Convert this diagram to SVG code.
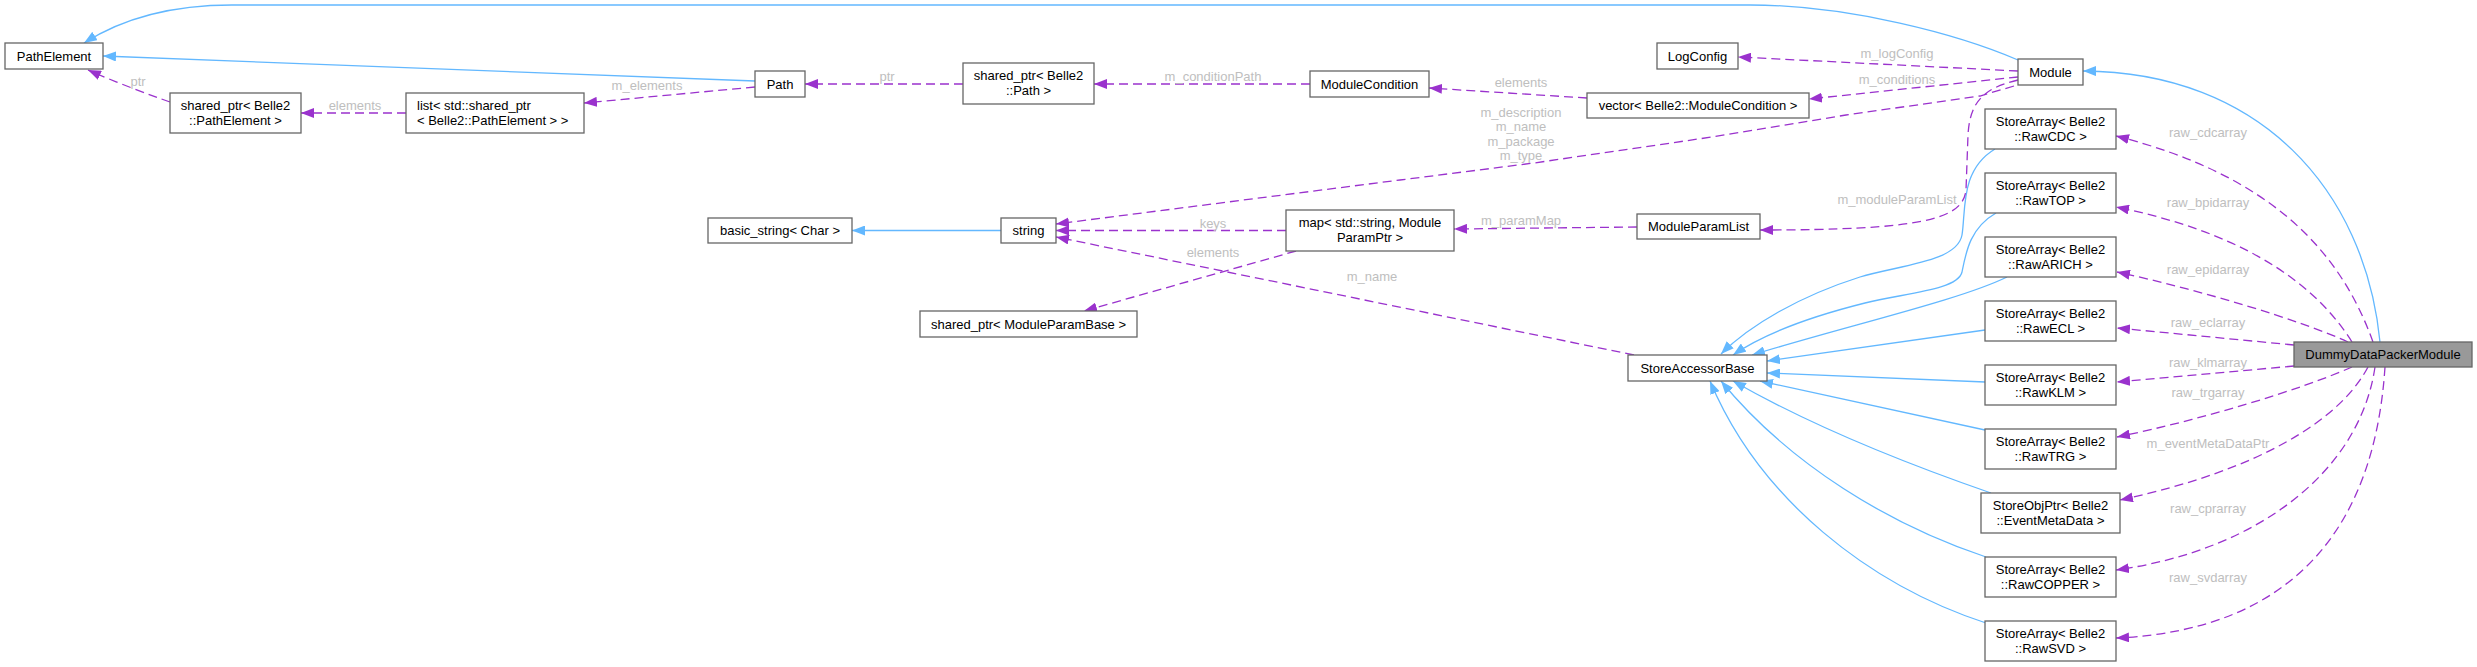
<svg xmlns="http://www.w3.org/2000/svg" width="2477" height="667" viewBox="0 0 2477 667">
<defs>
<style>
.n rect{fill:#ffffff;stroke:#666666;stroke-width:1.3}
.n text{font-family:"Liberation Sans",Arial,sans-serif;font-size:13px;fill:#000000;text-anchor:middle}
.n text.l{text-anchor:start}
#ddpm rect{fill:#999999}
.b{fill:none;stroke:#63b8ff;stroke-width:1.3;marker-end:url(#ab)}
.p{fill:none;stroke:#9a32cd;stroke-width:1.3;stroke-dasharray:9,5;marker-end:url(#ap)}
.lb{font-family:"Liberation Sans",Arial,sans-serif;font-size:13px;fill:#bebebe;text-anchor:middle}
</style>
<marker id="ab" viewBox="0 0 13 10" refX="13" refY="5" markerWidth="13" markerHeight="10" markerUnits="userSpaceOnUse" orient="auto"><path d="M0,0L13,5L0,10z" fill="#63b8ff"/></marker>
<marker id="ap" viewBox="0 0 13 10" refX="13" refY="5" markerWidth="13" markerHeight="10" markerUnits="userSpaceOnUse" orient="auto"><path d="M0,0L13,5L0,10z" fill="#9a32cd"/></marker>
</defs>
<rect width="2477" height="667" fill="#ffffff"/>
<g id="edges">
<path class="b" d="M2018,60 C1960,35 1850,5 1750,5 L232,5 C170,5 120,20 84,43"/>
<path class="b" d="M755,81 L103,56"/>
<path class="b" d="M1001,230.5 L852,230.5"/>
<path class="b" d="M2380,342 C2365,190 2260,72 2083,71"/>
<path class="b" d="M1995,149 C1960,170 1966,210 1962,235 C1957,262 1900,265 1860,277 C1800,296 1750,325 1721,354"/>
<path class="b" d="M1996,213 C1970,228 1966,252 1962,272 C1958,290 1905,293 1865,303 C1805,318 1762,335 1733,355"/>
<path class="b" d="M2007,277 C1960,300 1850,325 1752,355"/>
<path class="b" d="M1985,330 L1767,361"/>
<path class="b" d="M1985,382 L1767,373"/>
<path class="b" d="M1985,430 L1760,381"/>
<path class="b" d="M1991,493 C1910,465 1810,425 1733,381"/>
<path class="b" d="M1986,557 C1890,525 1790,465 1721,381"/>
<path class="b" d="M1986,623 C1870,585 1760,500 1710,381"/>
<path class="p" d="M170,102 C150,95 115,82 88,70"/>
<path class="p" d="M406,113 L301,113"/>
<path class="p" d="M755,87 L584,103"/>
<path class="p" d="M963,84 L805,84"/>
<path class="p" d="M1310,84 L1094,84"/>
<path class="p" d="M1587,98 L1429,88"/>
<path class="p" d="M2018,71 L1738,57"/>
<path class="p" d="M2018,77 L1809,99"/>
<path class="p" d="M2014,86 L1980,96 L1846,115 L1712,137 L1534,163 L1400,180 L1056,224"/>
<path class="p" d="M2018,80 C1985,88 1970,100 1968,135 L1966,190 C1963,220 1920,230 1760,230"/>
<path class="p" d="M1634,355 L1056,237"/>
<path class="p" d="M1286,230.5 L1056,230.5"/>
<path class="p" d="M1296,251 L1084,311"/>
<path class="p" d="M1637,227 L1454,229"/>
<path class="p" d="M2373,342 C2340,250 2270,175 2116,136"/>
<path class="p" d="M2352,342 C2310,275 2230,230 2116,207"/>
<path class="p" d="M2348,342 C2300,320 2200,290 2117,272"/>
<path class="p" d="M2294,345 L2117,328"/>
<path class="p" d="M2294,366 L2117,382"/>
<path class="p" d="M2352,367 C2300,390 2200,420 2117,437"/>
<path class="p" d="M2368,367 C2340,420 2260,470 2120,500"/>
<path class="p" d="M2375,367 C2360,470 2260,550 2116,570"/>
<path class="p" d="M2385,367 C2375,520 2300,630 2116,638"/>
<text class="lb" x="138" y="86">ptr</text>
<text class="lb" x="355" y="109.5">elements</text>
<text class="lb" x="647" y="89.5">m_elements</text>
<text class="lb" x="887" y="80.5">ptr</text>
<text class="lb" x="1213" y="80.5">m_conditionPath</text>
<text class="lb" x="1521" y="86.5">elements</text>
<text class="lb" x="1897" y="57.5">m_logConfig</text>
<text class="lb" x="1897" y="83.5">m_conditions</text>
<text class="lb" x="1521" y="116.5">m_description</text>
<text class="lb" x="1521" y="131">m_name</text>
<text class="lb" x="1521" y="145.5">m_package</text>
<text class="lb" x="1521" y="160">m_type</text>
<text class="lb" x="1897" y="203.5">m_moduleParamList</text>
<text class="lb" x="1521" y="224.5">m_paramMap</text>
<text class="lb" x="1213" y="227.5">keys</text>
<text class="lb" x="1213" y="256.5">elements</text>
<text class="lb" x="1372" y="281">m_name</text>
<text class="lb" x="2208" y="136.5">raw_cdcarray</text>
<text class="lb" x="2208" y="206.5">raw_bpidarray</text>
<text class="lb" x="2208" y="273.5">raw_epidarray</text>
<text class="lb" x="2208" y="327">raw_eclarray</text>
<text class="lb" x="2208" y="367">raw_klmarray</text>
<text class="lb" x="2208" y="396.5">raw_trgarray</text>
<text class="lb" x="2208" y="447.5">m_eventMetaDataPtr</text>
<text class="lb" x="2208" y="512.5">raw_cprarray</text>
<text class="lb" x="2208" y="581.5">raw_svdarray</text>
</g>
<g id="pathelement" class="n"><rect x="5" y="43" width="98" height="26"/><text x="54" y="60.5">PathElement</text></g>
<g id="sp_pathelement" class="n"><rect x="170" y="93" width="131" height="40"/><text x="235.5" y="109.5">shared_ptr&lt; Belle2</text><text x="235.5" y="124.5">::PathElement &gt;</text></g>
<g id="list" class="n"><rect x="406" y="93" width="178" height="40"/><text class="l" x="417" y="109.5">list&lt; std::shared_ptr</text><text class="l" x="417" y="124.5">&lt; Belle2::PathElement &gt; &gt;</text></g>
<g id="path" class="n"><rect x="755" y="71" width="50" height="26"/><text x="780" y="88.5">Path</text></g>
<g id="sp_path" class="n"><rect x="963" y="63" width="131" height="41"/><text x="1028.5" y="79.5">shared_ptr&lt; Belle2</text><text x="1028.5" y="94.5">::Path &gt;</text></g>
<g id="modulecondition" class="n"><rect x="1310" y="71" width="119" height="26"/><text x="1369.5" y="88.5">ModuleCondition</text></g>
<g id="vector" class="n"><rect x="1587" y="93" width="222" height="25"/><text x="1698" y="110">vector&lt; Belle2::ModuleCondition &gt;</text></g>
<g id="logconfig" class="n"><rect x="1657" y="43" width="81" height="26"/><text x="1697.5" y="60.5">LogConfig</text></g>
<g id="module" class="n"><rect x="2018" y="59" width="65" height="26"/><text x="2050.5" y="76.5">Module</text></g>
<g id="basic_string" class="n"><rect x="708" y="218" width="144" height="25"/><text x="780" y="235">basic_string&lt; Char &gt;</text></g>
<g id="string" class="n"><rect x="1001" y="218" width="55" height="25"/><text x="1028.5" y="235">string</text></g>
<g id="map" class="n"><rect x="1286" y="210" width="168" height="41"/><text x="1370" y="226.5">map&lt; std::string, Module</text><text x="1370" y="241.5">ParamPtr &gt;</text></g>
<g id="sp_moduleparambase" class="n"><rect x="920" y="311" width="217" height="26"/><text x="1028.5" y="328.5">shared_ptr&lt; ModuleParamBase &gt;</text></g>
<g id="moduleparamlist" class="n"><rect x="1637" y="214" width="123" height="25"/><text x="1698.5" y="231">ModuleParamList</text></g>
<g id="storeaccessorbase" class="n"><rect x="1628" y="355" width="139" height="26"/><text x="1697.5" y="372.5">StoreAccessorBase</text></g>
<g id="rawcdc" class="n"><rect x="1985" y="109" width="131" height="40"/><text x="2050.5" y="125.5">StoreArray&lt; Belle2</text><text x="2050.5" y="140.5">::RawCDC &gt;</text></g>
<g id="rawtop" class="n"><rect x="1985" y="173" width="131" height="40"/><text x="2050.5" y="189.5">StoreArray&lt; Belle2</text><text x="2050.5" y="204.5">::RawTOP &gt;</text></g>
<g id="rawarich" class="n"><rect x="1985" y="237" width="131" height="40"/><text x="2050.5" y="253.5">StoreArray&lt; Belle2</text><text x="2050.5" y="268.5">::RawARICH &gt;</text></g>
<g id="rawecl" class="n"><rect x="1985" y="301" width="131" height="40"/><text x="2050.5" y="317.5">StoreArray&lt; Belle2</text><text x="2050.5" y="332.5">::RawECL &gt;</text></g>
<g id="rawklm" class="n"><rect x="1985" y="365" width="131" height="40"/><text x="2050.5" y="381.5">StoreArray&lt; Belle2</text><text x="2050.5" y="396.5">::RawKLM &gt;</text></g>
<g id="rawtrg" class="n"><rect x="1985" y="429" width="131" height="40"/><text x="2050.5" y="445.5">StoreArray&lt; Belle2</text><text x="2050.5" y="460.5">::RawTRG &gt;</text></g>
<g id="eventmetadata" class="n"><rect x="1981" y="493" width="139" height="40"/><text x="2050.5" y="509.5">StoreObjPtr&lt; Belle2</text><text x="2050.5" y="524.5">::EventMetaData &gt;</text></g>
<g id="rawcopper" class="n"><rect x="1985" y="557" width="131" height="40"/><text x="2050.5" y="573.5">StoreArray&lt; Belle2</text><text x="2050.5" y="588.5">::RawCOPPER &gt;</text></g>
<g id="rawsvd" class="n"><rect x="1985" y="621" width="131" height="40"/><text x="2050.5" y="637.5">StoreArray&lt; Belle2</text><text x="2050.5" y="652.5">::RawSVD &gt;</text></g>
<g id="ddpm" class="n"><rect x="2294" y="342" width="178" height="25"/><text x="2383" y="359">DummyDataPackerModule</text></g>
</svg>
